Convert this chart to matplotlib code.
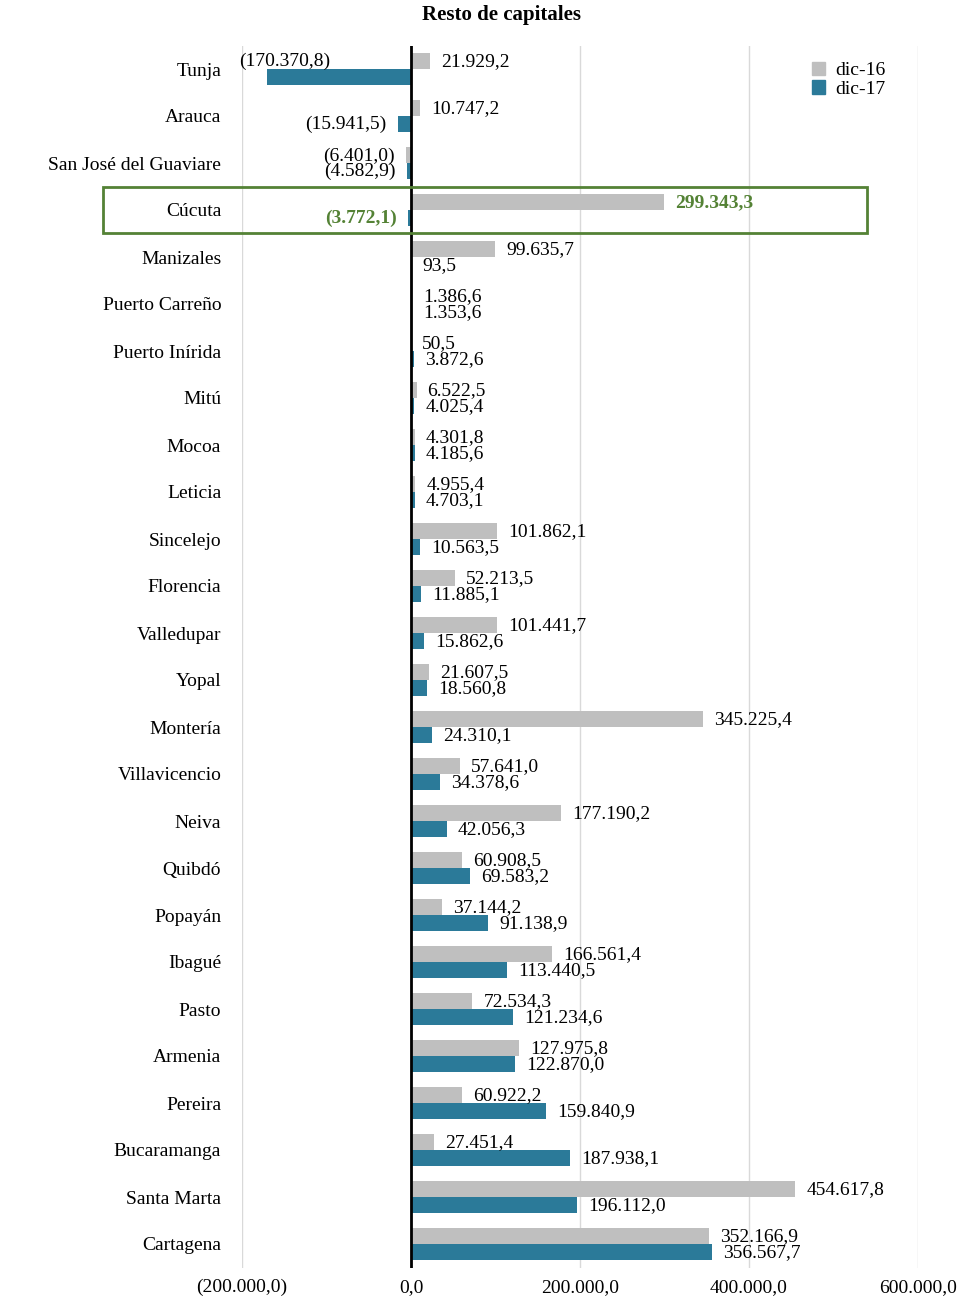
import numpy as np
import matplotlib
matplotlib.use("Agg")
import matplotlib.pyplot as plt
from matplotlib.patches import Rectangle, Patch

plt.rcParams['font.family'] = ['Liberation Serif', 'DejaVu Serif']

cities = ["Tunja", "Arauca", "San José del Guaviare", "Cúcuta", "Manizales",
          "Puerto Carreño", "Puerto Inírida", "Mitú", "Mocoa", "Leticia",
          "Sincelejo", "Florencia", "Valledupar", "Yopal", "Montería",
          "Villavicencio", "Neiva", "Quibdó", "Popayán", "Ibagué", "Pasto",
          "Armenia", "Pereira", "Bucaramanga", "Santa Marta", "Cartagena"]
dic16 = [21929.2, 10747.2, -6401.0, 299343.3, 99635.7,
         1386.6, 50.5, 6522.5, 4301.8, 4955.4,
         101862.1, 52213.5, 101441.7, 21607.5, 345225.4,
         57641.0, 177190.2, 60908.5, 37144.2, 166561.4, 72534.3,
         127975.8, 60922.2, 27451.4, 454617.8, 352166.9]
dic17 = [-170370.8, -15941.5, -4582.9, -3772.1, 93.5,
         1353.6, 3872.6, 4025.4, 4185.6, 4703.1,
         10563.5, 11885.1, 15862.6, 18560.8, 24310.1,
         34378.6, 42056.3, 69583.2, 91138.9, 113440.5, 121234.6,
         122870.0, 159840.9, 187938.1, 196112.0, 356567.7]
series_names = ["dic-16", "dic-17"]
xticks = [-200000, 0, 200000, 400000, 600000]
highlight = "Cúcuta"

gray = "#BFBFBF"
blue = "#2B7A99"
green = "#548235"
fs = 14


def fmt(v):
    # Spanish style: thousands '.', decimals ',', negatives in parentheses
    s = f"{abs(v):,.1f}".replace(",", "X").replace(".", ",").replace("X", ".")
    return f"({s})" if v < 0 else s


fig = plt.figure(figsize=(9.7, 12.96), dpi=100)
ax = fig.add_axes([242 / 970, 1 - 1267.5 / 1296, 676 / 970, 1222 / 1296])

y = np.arange(len(cities))
h = 0.34
ax.barh(y - h / 2, dic16, height=h, color=gray, zorder=3)
ax.barh(y + h / 2, dic17, height=h, color=blue, zorder=3)

ax.set_xlim(-200000, 600000)
ax.set_ylim(len(cities) - 0.5, -0.5)
ax.set_xticks(xticks)
ax.set_xticklabels([fmt(t) for t in xticks], fontsize=fs)
ax.set_yticks(y)
ax.set_yticklabels(cities, fontsize=fs)
ax.tick_params(length=0, pad=15)
ax.tick_params(axis='x', pad=8)
for sp in ax.spines.values():
    sp.set_visible(False)
ax.grid(axis='x', color="#D9D9D9", lw=1, zorder=0)
ax.axvline(0, color="black", lw=2, zorder=4)

for i, name in enumerate(cities):
    hl = name == highlight
    kw = dict(fontsize=fs, va='center', zorder=5)
    if hl:
        kw.update(color=green, fontweight='bold')
    for v, yy in ((dic16[i], i - h / 2 + 0.02), (dic17[i], i + h / 2 + 0.01)):
        if v >= 0:
            ax.annotate(fmt(v), (v, yy), xytext=(8, 0), textcoords='offset points',
                        ha='left', **kw)
        elif v < -100000:
            # label kept inside plot area, raised above the bar
            ax.annotate(fmt(v), (v, i - h / 2), xytext=(-20, 0),
                        textcoords='offset points', ha='left', **kw)
        else:
            ax.annotate(fmt(v), (v, yy), xytext=(-8, 0), textcoords='offset points',
                        ha='right', **kw)

# highlight box around Cúcuta
k = cities.index(highlight)
ax.add_patch(Rectangle((-365000, k - 0.48), 905000, 0.96, fill=False,
                       edgecolor=green, lw=2, clip_on=False, zorder=6))

handles = [Patch(color=gray), Patch(color=blue)]
fig.legend(handles, series_names, loc='upper left', bbox_to_anchor=(802 / 970, 1 - 52 / 1296),
           frameon=False, fontsize=fs, handlelength=0.7, handleheight=0.7,
           handletextpad=0.5, labelspacing=0.05, borderpad=0)

fig.text(502 / 970, 1 - 15 / 1296, "Resto de capitales", ha='center', va='center',
         fontsize=15, fontweight='bold')

fig.savefig("out.png", dpi=100)
